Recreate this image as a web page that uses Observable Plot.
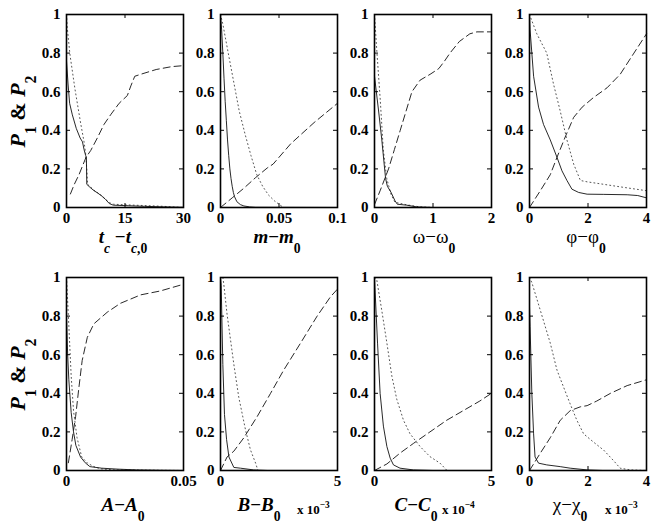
<!DOCTYPE html>
<html>
<head>
<meta charset="utf-8">
<script src="https://cdn.jsdelivr.net/npm/d3@7"></script>
<script src="https://cdn.jsdelivr.net/npm/@observablehq/plot@0.6"></script>
<style>
  html, body { margin: 0; padding: 0; background: #fff; }
  #fig { position: relative; width: 654px; height: 526px; background: #fff; overflow: hidden; }
  #fig svg { position: absolute; overflow: visible; }
</style>
</head>
<body>
<div id="fig"></div>
<script>
// ---------------- data ----------------
const yTicks = [0, 0.2, 0.4, 0.6, 0.8, 1];

const xMax = [30, 0.1, 2, 4, 0.05, 5, 5, 4];
const xTicks = [[0, 15, 30], [0, 0.05, 0.1], [0, 1, 2], [0, 2, 4], [0, 0.05], [0, 5], [0, 5], [0, 2, 4]];

// panel 1: t_c - t_c,0
const tcSolid = [[0,0.76],[0.4,0.64],[0.8,0.54],[1.5,0.48],[2.5,0.41],[3.5,0.36],[4.1,0.34],[4.5,0.30],[4.9,0.27],[5.1,0.26],[5.2,0.12],[6,0.105],[7,0.088],[8,0.075],[9,0.06],[10,0.042],[11,0.02],[12,0.012],[16,0.009],[20,0.006],[25,0.003],[30,0.001]];
const tcDotted = [[0,1],[0.2,0.93],[0.9,0.79],[2.2,0.61],[3.6,0.44],[4.5,0.34],[4.9,0.28],[5.2,0.2],[5.4,0.12],[6,0.11],[7,0.09],[9,0.062],[11,0.025],[12,0.017],[15,0.014],[20,0.01],[25,0.006],[27,0.003],[30,0]];
const tcDashed = [[1,0.07],[2,0.12],[3.2,0.17],[4.2,0.22],[5,0.26],[6.2,0.295],[7.9,0.36],[9.6,0.43],[11.3,0.48],[13.5,0.54],[15.6,0.58],[16.5,0.63],[17.5,0.68],[19,0.69],[23,0.715],[27,0.73],[30,0.735]];

// panel 2: m - m0
const mSolid = [[0,1],[0.001,0.92],[0.002,0.8],[0.003,0.67],[0.004,0.55],[0.005,0.45],[0.006,0.35],[0.007,0.27],[0.008,0.2],[0.009,0.15],[0.01,0.11],[0.011,0.078],[0.012,0.056],[0.014,0.03],[0.017,0.015],[0.02,0.008],[0.025,0.003],[0.03,0.001],[0.1,0]];
const mDotted = [[0,1],[0.002,0.95],[0.006,0.82],[0.011,0.66],[0.016,0.5],[0.021,0.38],[0.026,0.27],[0.031,0.17],[0.036,0.11],[0.041,0.065],[0.046,0.035],[0.051,0.012],[0.054,0]];
const mDashed = [[0,0],[0.01,0.05],[0.02,0.1],[0.03,0.155],[0.04,0.205],[0.045,0.225],[0.06,0.33],[0.08,0.44],[0.1,0.54]];

// panel 3: omega - omega0
const wSolid = [[0,0.68],[0.07,0.5],[0.125,0.35],[0.17,0.21],[0.19,0.15],[0.22,0.11],[0.28,0.08],[0.35,0.035],[0.39,0.017],[0.55,0.012],[0.72,0.003],[1,0],[2,0]];
const wDotted = [[0,1],[0.04,0.81],[0.1,0.55],[0.15,0.3],[0.21,0.15],[0.28,0.07],[0.35,0.027],[0.55,0.014],[0.78,0.003],[1,0],[2,0]];
const wDashed = [[0,0.015],[0.1,0.09],[0.24,0.2],[0.34,0.3],[0.44,0.4],[0.54,0.5],[0.64,0.6],[0.78,0.66],[0.95,0.69],[1.1,0.72],[1.2,0.76],[1.29,0.8],[1.45,0.86],[1.63,0.9],[1.75,0.91],[2,0.91]];

// panel 4: phi - phi0
const pSolid = [[0,1],[0.02,0.92],[0.14,0.68],[0.31,0.52],[0.48,0.43],[0.71,0.35],[0.94,0.26],[1.11,0.19],[1.28,0.14],[1.45,0.095],[1.68,0.078],[1.97,0.069],[2.54,0.068],[3.34,0.066],[3.7,0.062],[4,0.05]];
const pDotted = [[0,1],[0.25,0.9],[0.59,0.8],[0.82,0.64],[1.05,0.5],[1.28,0.35],[1.51,0.225],[1.74,0.14],[1.97,0.133],[2.54,0.12],[3.1,0.107],[4,0.087]];
const pDashed = [[0,0],[0.37,0.087],[0.71,0.17],[0.94,0.26],[1.22,0.365],[1.51,0.467],[1.8,0.52],[2.19,0.57],[2.65,0.62],[3.1,0.69],[3.57,0.8],[4,0.9]];

// panel 5: A - A0
const aSolid = [[0,0.8],[0.0005,0.6],[0.001,0.47],[0.002,0.3],[0.003,0.2],[0.004,0.13],[0.006,0.07],[0.008,0.04],[0.01,0.02],[0.015,0.012],[0.022,0.007],[0.03,0.003],[0.04,0.001],[0.05,0]];
const aDotted = [[0,1],[0.001,0.75],[0.002,0.49],[0.003,0.31],[0.0045,0.17],[0.0065,0.07],[0.009,0.038],[0.0117,0.02],[0.0146,0.009],[0.02,0.003],[0.05,0]];
const aDashed = [[0.0008,0.04],[0.0024,0.16],[0.0039,0.28],[0.0053,0.43],[0.0067,0.57],[0.0089,0.69],[0.0117,0.76],[0.0174,0.82],[0.023,0.866],[0.0317,0.91],[0.04,0.93],[0.05,0.965]];

// panel 6: B - B0 (x 10^-3)
const bSolid = [[0,1],[0.03,0.96],[0.1,0.55],[0.17,0.29],[0.26,0.16],[0.36,0.07],[0.57,0.016],[0.85,0.012],[1.42,0.003],[2,0],[5,0]];
const bDotted = [[0.1,1],[0.14,0.966],[0.28,0.81],[0.57,0.55],[0.78,0.38],[1.07,0.21],[1.28,0.107],[1.5,0.038],[1.6,0]];
const bDashed = [[0,0],[0.28,0.07],[0.57,0.1],[1,0.17],[1.57,0.28],[2.14,0.4],[2.7,0.52],[3.42,0.66],[4.13,0.8],[4.7,0.9],[5,0.94]];

// panel 7: C - C0 (x 10^-4)
const cSolid = [[0,1],[0.03,0.92],[0.13,0.66],[0.24,0.4],[0.38,0.23],[0.53,0.124],[0.67,0.064],[0.81,0.029],[1.09,0.012],[1.66,0.003],[2.5,0],[5,0]];
const cDotted = [[0,1],[0.1,0.986],[0.31,0.83],[0.53,0.66],[0.74,0.49],[0.95,0.37],[1.24,0.26],[1.52,0.19],[1.95,0.124],[2.37,0.072],[2.8,0.038],[3.1,0]];
const cDashed = [[0,0],[0.53,0.034],[1.09,0.09],[1.66,0.14],[2.37,0.2],[3.08,0.26],[3.79,0.31],[4.5,0.36],[5,0.4]];

// panel 8: chi - chi0 (x 10^-3)
const xSolid = [[0,0.85],[0.02,0.745],[0.08,0.4],[0.14,0.19],[0.19,0.07],[0.31,0.038],[0.59,0.029],[1.05,0.02],[1.39,0.012],[1.97,0.003],[2.5,0],[4,0]];
const xDotted = [[0,1],[0.08,0.974],[0.37,0.83],[0.71,0.66],[0.94,0.52],[1.17,0.43],[1.39,0.345],[1.62,0.26],[1.85,0.19],[2.19,0.147],[2.54,0.105],[2.88,0.05],[3.1,0.012],[3.45,0.003],[4,0]];
const xDashed = [[0,0],[0.37,0.09],[0.71,0.17],[1.05,0.26],[1.39,0.31],[1.74,0.33],[1.97,0.336],[2.3,0.36],[2.77,0.4],[3.34,0.44],[4,0.47]];

const solids = [tcSolid, mSolid, wSolid, pSolid, aSolid, bSolid, cSolid, xSolid];
const dotteds = [tcDotted, mDotted, wDotted, pDotted, aDotted, bDotted, cDotted, xDotted];
const dasheds = [tcDashed, mDashed, wDashed, pDashed, aDashed, bDashed, cDashed, xDashed];

// axis labels (segments: text, flags  i=italic b=bold _=subscript ^=superscript)
const xLabels = [
  [["t","ib"],["c","ib_"],[" \u2212","b"],["t","ib"],["c","ib_"],[",0","b_"]],
  [["m","ib"],["\u2212","b"],["m","ib"],["0","b_"]],
  [["\u03c9\u2212\u03c9",""],["0","b_"]],
  [["\u03c6\u2212\u03c6",""],["0","b_"]],
  [["A","ib"],["\u2212","b"],["A","ib"],["0","b_"]],
  [["B","ib"],["\u2212","b"],["B","ib"],["0","b_"]],
  [["C","ib"],["\u2212","b"],["C","ib"],["0","b_"]],
  [["\u03c7\u2212\u03c7",""],["0","b_"]]
];
const exponents = [null, null, null, null, null, "\u22123", "\u22124", "\u22123"];
const yLabel = [["P","ib"],["1","b_"],[" & ","b"],["P","ib"],["2","b_"]];

// ---------------- layout ----------------
const colLeft = [66, 220, 374, 529];
const rowTop = [14, 277];
const W = 117, H = 193;
const ML = 50, MR = 20, MT = 12, MB = 40;
const labelCenter = [123, 277, 434, 586, 123, 259, 416, 570];
const labelBaseline = [243, 511];
const expStart = [0, 0, 0, 0, 0, 297, 442, 605];
const FONT = "'Liberation Serif', 'Times New Roman', Times, serif";

function richText(parent, x, y, segs, size, anchor, rotate) {
  const t = d3.select(parent).append("text")
    .attr("x", x).attr("y", y)
    .attr("text-anchor", anchor)
    .attr("font-family", FONT)
    .attr("font-size", size)
    .attr("fill", "black");
  if (rotate) t.attr("transform", `rotate(${rotate},${x},${y})`);
  let shift = 0;
  for (const [s, f] of segs) {
    const target = f.includes("_") ? size * 0.5 : f.includes("^") ? -size * 0.5 : 0;
    const ts = t.append("tspan").text(s).attr("dy", target - shift);
    shift = target;
    ts.attr("font-style", f.includes("i") ? "italic" : "normal")
      .attr("font-weight", f.includes("b") ? "bold" : "normal");
    if (f.includes("_") || f.includes("^")) ts.attr("font-size", size * 0.72);
  }
  return t;
}

const fig = document.getElementById("fig");

for (let i = 0; i < 8; i++) {
  const row = Math.floor(i / 4), col = i % 4;
  const xm = xMax[i];
  const tk = 4; // inward tick length in px
  const svg = Plot.plot({
    width: ML + W + MR,
    height: MT + H + MB,
    marginLeft: ML, marginRight: MR, marginTop: MT, marginBottom: MB,
    x: {domain: [0, xm]},
    y: {domain: [0, 1]},
    style: {fontFamily: FONT, fontSize: "15px", fontWeight: "bold", background: "none", overflow: "visible", color: "black"},
    marks: [
      Plot.line(dotteds[i], {stroke: "#555", strokeWidth: 1, strokeDasharray: "1,3"}),
      Plot.line(dasheds[i], {stroke: "#111", strokeWidth: 0.9, strokeDasharray: "7,4"}),
      Plot.line(solids[i], {stroke: "#111", strokeWidth: 0.9}),
      Plot.ruleX(xTicks[i], {x: d => d, y1: 0, y2: tk / H, stroke: "black"}),
      Plot.ruleX(xTicks[i], {x: d => d, y1: 1 - tk / H, y2: 1, stroke: "black"}),
      Plot.ruleY(yTicks, {y: d => d, x1: 0, x2: xm * tk / W, stroke: "black"}),
      Plot.ruleY(yTicks, {y: d => d, x1: xm * (1 - tk / W), x2: xm, stroke: "black"}),
      Plot.frame({stroke: "black", strokeWidth: 1.6}),
      Plot.axisX({anchor: "bottom", ticks: xTicks[i], tickSize: 0, tickPadding: 5, label: null, tickFormat: d => String(d), fontWeight: "bold", fontSize: 15, fill: "black"}),
      Plot.axisY({anchor: "left", ticks: yTicks, tickSize: 0, tickPadding: 6, label: null, tickFormat: d => String(d), fontWeight: "bold", fontSize: 15, fill: "black"})
    ]
  });
  const ox = colLeft[col] - ML, oy = rowTop[row] - MT;
  svg.style.left = ox + "px";
  svg.style.top = oy + "px";
  fig.appendChild(svg);

  // x label
  richText(svg, labelCenter[i] - ox, labelBaseline[row] - oy, xLabels[i], 19, "middle");
  if (exponents[i]) {
    richText(svg, expStart[i] - ox, labelBaseline[row] + 3 - oy, [["x 10", "b"], [exponents[i], "b^"]], 13, "start");
  }
  if (col === 0) {
    const cy = rowTop[row] + H / 2 + 1;
    richText(svg, 25 - ox, cy - oy, yLabel, 22, "middle", -90);
  }
}
</script>
</body>
</html>
